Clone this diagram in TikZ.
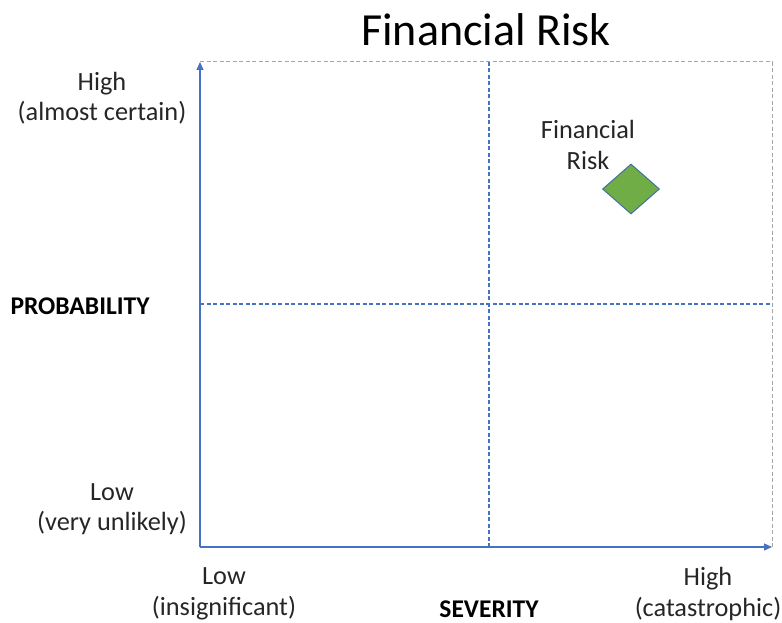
\documentclass[tikz,border=0pt]{standalone}
\usepackage{fontspec}
\setmainfont{Carlito}
\usetikzlibrary{arrows.meta,shapes.geometric}
\definecolor{axisblue}{HTML}{4472C4}
\definecolor{bordergray}{HTML}{A6A6A6}
\definecolor{riskgreen}{HTML}{70AD47}
\definecolor{riskedge}{HTML}{41719C}
\tikzset{
  lbl/.style={align=center,inner sep=0pt,text=black!85,font=\fontsize{26.3}{30.5}\selectfont},
  boldlbl/.style={inner sep=0pt,text=black,font=\fontsize{25.5}{28}\selectfont\bfseries},
  axisline/.style={draw=axisblue,line width=1.3pt,-{Triangle[length=8pt,width=7pt]}},
  midline/.style={draw=axisblue,line width=1.2pt,dash pattern=on 4pt off 2.5pt},
  frameline/.style={draw=bordergray,line width=1pt,dash pattern=on 4pt off 2.5pt},
  riskmark/.style={diamond,draw=riskedge,fill=riskgreen,line width=1pt,minimum width=57pt,minimum height=50pt,inner sep=0pt}
}
\begin{document}
\begin{tikzpicture}[x=1pt,y=-1pt]
\useasboundingbox (0,0) rectangle (782,623);
% coordinates
\coordinate (o) at (200,547);
\coordinate (yt) at (200,62);
\coordinate (xr) at (772,547);
\coordinate (tr) at (772,62);
\coordinate (vt) at (489,62);
\coordinate (vb) at (489,547);
\coordinate (hl) at (200,304);
\coordinate (hr) at (772,304);
% frame
\draw[frameline] (yt) -- (tr) -- (xr);
% quadrant lines
\draw[midline] (vt) -- (vb);
\draw[midline] (hl) -- (hr);
% axes
\draw[axisline] (o) -- (yt);
\draw[axisline] (o) -- (xr);
% title
\node[inner sep=0pt,font=\fontsize{46}{52}\selectfont,text=black] (title) at (486,30) {Financial Risk};
% y labels
\node[lbl] (yhigh) at (102,98) {High\\(almost certain)};
\node[lbl] (ylow) at (112,509) {Low\\(very unlikely)};
\node[boldlbl] (prob) at (80,306) {PROBABILITY};
% x labels
\node[lbl] (xlow) at (224,594) {Low\\(insignificant)};
\node[lbl] (xhigh) at (708,594) {High\\(catastrophic)};
\node[boldlbl] (sev) at (489,609) {SEVERITY};
% risk
\node[riskmark] (risk) at (631,189) {};
\node[lbl] (risklbl) at (588,145) {Financial\\Risk};
\end{tikzpicture}
\end{document}
